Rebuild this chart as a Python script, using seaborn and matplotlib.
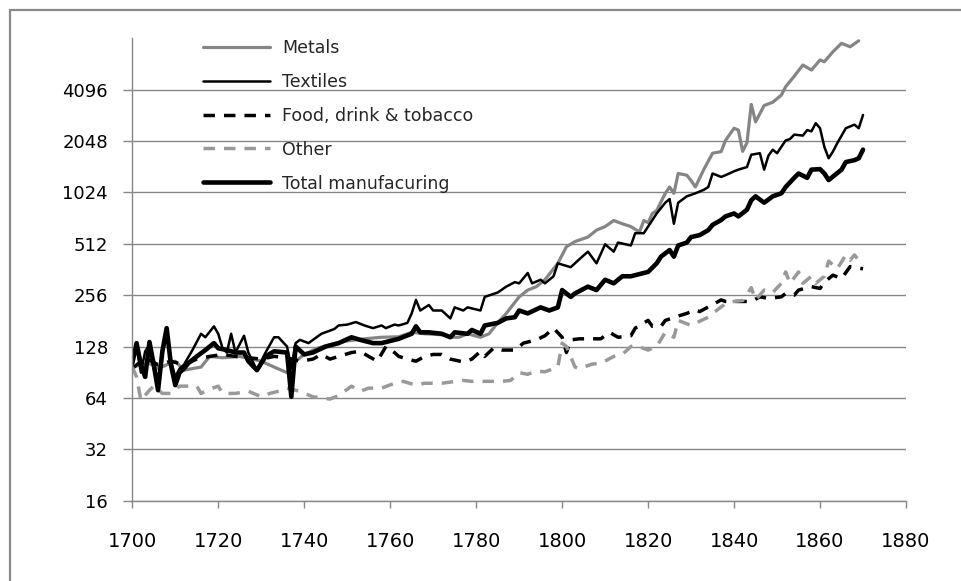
import matplotlib
matplotlib.use("Agg")
import matplotlib.pyplot as plt
import pandas as pd
import seaborn as sns
from matplotlib.patches import Rectangle

# Index values (log2 scale), per series
metals_years = [1700, 1702, 1704, 1706, 1708, 1710, 1712, 1714, 1716, 1718, 1721, 1725, 1728, 1730,
                1733, 1736, 1738, 1740, 1743, 1747, 1750, 1754, 1758, 1762, 1765, 1768, 1772, 1774,
                1776, 1778, 1781, 1783, 1785, 1787, 1790, 1792, 1794, 1796, 1799, 1801, 1803, 1806,
                1808, 1810, 1812, 1814, 1816, 1818, 1819, 1820, 1821, 1822, 1823, 1824, 1825, 1826,
                1827, 1829, 1830, 1831, 1833, 1835, 1837, 1838, 1840, 1841, 1842, 1843, 1844, 1845,
                1847, 1849, 1851, 1852, 1854, 1856, 1858, 1860, 1861, 1863, 1865, 1867, 1869]
metals = [97, 100, 102, 95, 100, 105, 93, 95, 97, 112, 110, 112, 108, 105,
          97, 90, 105, 115, 125, 133, 138, 142, 145, 146, 155, 152, 150, 145,
          145, 152, 145, 152, 176, 200, 250, 274, 287, 315, 393, 492, 527, 560,
          615, 645, 700, 670, 645, 600, 700, 680, 770, 800, 900, 1010, 1100, 1010,
          1320, 1290, 1200, 1100, 1400, 1735, 1773, 2060, 2430, 2370, 1780, 2000, 3350, 2650,
          3300, 3450, 3800, 4255, 4900, 5700, 5325, 6100, 5955, 6815, 7640, 7290, 7900]

textiles_years = [1700, 1701, 1702, 1703, 1704, 1705, 1706, 1707, 1708, 1709, 1710, 1711, 1712, 1714,
                  1716, 1717, 1719, 1720, 1721, 1722, 1723, 1724, 1726, 1727, 1729, 1731, 1733, 1734,
                  1736, 1737, 1738, 1739, 1741, 1744, 1747, 1748, 1750, 1752, 1754, 1756, 1758, 1759,
                  1761, 1762, 1764, 1765, 1766, 1767, 1769, 1770, 1772, 1774, 1775, 1777, 1778, 1781,
                  1782, 1785, 1787, 1789, 1790, 1792, 1793, 1795, 1796, 1798, 1799, 1802, 1804, 1806,
                  1808, 1810, 1812, 1813, 1816, 1817, 1819, 1820, 1822, 1824, 1825, 1826, 1827, 1829,
                  1831, 1833, 1834, 1835, 1837, 1838, 1840, 1841, 1843, 1844, 1846, 1847, 1848, 1849,
                  1850, 1852, 1853, 1854, 1856, 1857, 1858, 1859, 1860, 1861, 1862, 1863, 1864, 1866,
                  1868, 1869, 1870]
textiles = [110, 130, 90, 120, 130, 95, 80, 115, 150, 105, 85, 95, 100, 122,
            152, 145, 168, 152, 125, 118, 152, 118, 148, 118, 93, 118, 145, 145,
            128, 95, 134, 140, 134, 152, 162, 170, 172, 178, 170, 164, 170, 164,
            172, 170, 176, 200, 240, 208, 224, 208, 208, 187, 217, 208, 217, 208,
            250, 265, 287, 305, 300, 345, 300, 315, 300, 330, 393, 373, 415, 460,
            393, 508, 460, 520, 500, 590, 590, 645, 770, 890, 935, 670, 890, 970,
            1010, 1060, 1100, 1320, 1260, 1290, 1360, 1390, 1440, 1700, 1735, 1390, 1680, 1820,
            1735, 2060, 2100, 2230, 2200, 2370, 2330, 2600, 2430, 1890, 1620, 1775, 1985, 2430,
            2550, 2430, 2905]

food_years = [1700, 1703, 1706, 1709, 1712, 1715, 1718, 1721, 1724, 1727, 1730, 1733, 1736, 1739,
              1742, 1744, 1746, 1748, 1751, 1753, 1755, 1757, 1759, 1761, 1762, 1764, 1766, 1768,
              1770, 1772, 1774, 1777, 1779, 1781, 1782, 1784, 1786, 1789, 1791, 1794, 1796, 1798,
              1800, 1801, 1802, 1804, 1806, 1809, 1811, 1813, 1816, 1817, 1820, 1821, 1823, 1824,
              1827, 1829, 1831, 1832, 1835, 1837, 1838, 1842, 1844, 1846, 1848, 1851, 1852, 1854,
              1855, 1858, 1860, 1861, 1863, 1865, 1867, 1870]
food = [95, 110, 100, 105, 100, 108, 112, 115, 112, 110, 108, 112, 110, 105,
        108, 115, 108, 112, 118, 120, 112, 105, 128, 118, 112, 108, 105, 112,
        115, 115, 108, 104, 108, 120, 112, 125, 122, 122, 134, 140, 148, 164,
        145, 118, 140, 142, 142, 142, 155, 145, 148, 164, 182, 168, 168, 182,
        193, 200, 210, 205, 225, 240, 235, 235, 235, 250, 245, 250, 262, 256,
        274, 287, 280, 305, 335, 320, 376, 365]

other_years = [1700, 1701, 1702, 1704, 1705, 1707, 1709, 1711, 1713, 1715, 1716, 1718, 1720, 1721,
               1724, 1727, 1730, 1732, 1735, 1736, 1739, 1742, 1746, 1748, 1751, 1753, 1755, 1758,
               1761, 1763, 1766, 1768, 1772, 1777, 1779, 1782, 1786, 1788, 1790, 1792, 1794, 1796,
               1799, 1800, 1801, 1803, 1804, 1807, 1809, 1812, 1814, 1816, 1817, 1820, 1822, 1824,
               1826, 1827, 1830, 1832, 1834, 1835, 1838, 1840, 1842, 1844, 1845, 1847, 1849, 1851,
               1852, 1853, 1855, 1856, 1858, 1859, 1861, 1862, 1864, 1866, 1867, 1868, 1870]
other = [97, 85, 62, 71, 75, 68, 68, 75, 75, 75, 68, 72, 75, 68,
         68, 70, 65, 68, 71, 73, 70, 65, 63, 66, 75, 70, 73, 73,
         78, 80, 76, 78, 78, 81, 80, 80, 80, 81, 90, 88, 92, 91,
         97, 134, 128, 97, 95, 101, 102, 112, 115, 128, 130, 122, 128, 155,
         145, 182, 170, 180, 190, 200, 228, 235, 238, 283, 240, 274, 265, 300,
         350, 300, 350, 300, 330, 300, 330, 405, 365, 440, 410, 440, 380]

total_years = [1700, 1701, 1702, 1703, 1704, 1705, 1706, 1707, 1708, 1709, 1710, 1711, 1712, 1713,
               1715, 1717, 1719, 1720, 1722, 1724, 1726, 1727, 1729, 1731, 1733, 1736, 1737, 1738,
               1740, 1742, 1745, 1748, 1751, 1753, 1756, 1758, 1761, 1762, 1765, 1766, 1767, 1769,
               1772, 1774, 1775, 1778, 1779, 1781, 1782, 1785, 1787, 1789, 1790, 1792, 1795, 1797,
               1799, 1800, 1802, 1803, 1806, 1808, 1810, 1812, 1814, 1816, 1818, 1820, 1822, 1823,
               1825, 1826, 1827, 1829, 1830, 1832, 1834, 1835, 1837, 1838, 1840, 1841, 1843, 1844,
               1845, 1847, 1849, 1851, 1852, 1854, 1855, 1857, 1858, 1860, 1861, 1862, 1865, 1866,
               1868, 1869, 1870]
total = [102, 134, 100, 85, 136, 100, 71, 120, 164, 100, 76, 90, 95, 102,
         112, 122, 134, 125, 122, 118, 118, 105, 93, 112, 120, 118, 65, 128,
         115, 118, 128, 134, 145, 140, 134, 134, 140, 142, 152, 168, 155, 155,
         152, 145, 155, 152, 160, 152, 170, 176, 187, 190, 208, 200, 217, 208,
         217, 274, 250, 262, 287, 274, 315, 300, 330, 330, 340, 350, 393, 430,
         470, 430, 500, 520, 560, 575, 615, 660, 705, 740, 770, 740, 810, 920,
         970, 890, 970, 1010, 1100, 1245, 1320, 1245, 1390, 1400, 1320, 1208, 1390, 1540,
         1580, 1620, 1820]

y_ticks = [16, 32, 64, 128, 256, 512, 1024, 2048, 4096]
x_ticks = list(range(1700, 1881, 20))

sns.set_theme(style="white")
plt.rcParams["font.family"] = ["DejaVu Sans"]

grid_grey = "#878787"
fig = plt.figure(figsize=(9.62, 5.81), dpi=100)
ax = fig.add_axes([0.1375, 0.1382, 0.8043, 0.7962])

series = [
    ("Metals", metals_years, metals, "#858585", 2.3, "-"),
    ("Textiles", textiles_years, textiles, "black", 1.8, "-"),
    ("Food, drink & tobacco", food_years, food, "black", 2.5, (0, (3.3, 2.6))),
    ("Other", other_years, other, "#999999", 2.5, (0, (3.3, 2.6))),
    ("Total manufacuring", total_years, total, "black", 3.3, "-"),
]
for label, xs, ys, color, lw, ls in series:
    frame = pd.DataFrame({"year": xs, "value": ys})
    sns.lineplot(data=frame, x="year", y="value", ax=ax, color=color, linewidth=lw,
                 linestyle=ls, label=label)

ax.set_yscale("log", base=2)
ax.set_ylim(16, 8192)
ax.set_xlim(1700, 1880)
ax.set_yticks(y_ticks)
ax.set_yticklabels([str(v) for v in y_ticks], fontsize=13)
ax.yaxis.set_minor_locator(matplotlib.ticker.NullLocator())
ax.set_xticks(x_ticks)
ax.set_xticklabels([str(v) for v in x_ticks], fontsize=14)
ax.set_xlabel("")
ax.set_ylabel("")

ax.grid(axis="y", color=grid_grey, linewidth=1.0)
ax.grid(axis="x", visible=False)
for side in ["top", "right"]:
    ax.spines[side].set_visible(False)
for side in ["left", "bottom"]:
    ax.spines[side].set_color(grid_grey)
    ax.spines[side].set_linewidth(1.0)
ax.tick_params(axis="y", which="major", direction="out", length=6.5, width=1.0,
               color=grid_grey, pad=11, labelcolor="black", left=True)
ax.tick_params(axis="x", which="major", direction="out", length=5.2, width=1.0,
               color=grid_grey, pad=17, labelcolor="black", bottom=True)

ax.legend(loc="upper left", bbox_to_anchor=(0.211, 0.9335), bbox_transform=fig.transFigure,
          frameon=False, fontsize=12.5, handlelength=3.85, handletextpad=0.7,
          labelspacing=0.92, borderpad=0, borderaxespad=0)

# outer chart-area border (clipped at right and bottom as in the source)
fig.add_artist(Rectangle((10 / 962, -0.5), 2.0, 571 / 581 + 0.5, transform=fig.transFigure,
                         fill=False, edgecolor="#8a8a8a", linewidth=1.6))

fig.savefig("out.png", dpi=100)
